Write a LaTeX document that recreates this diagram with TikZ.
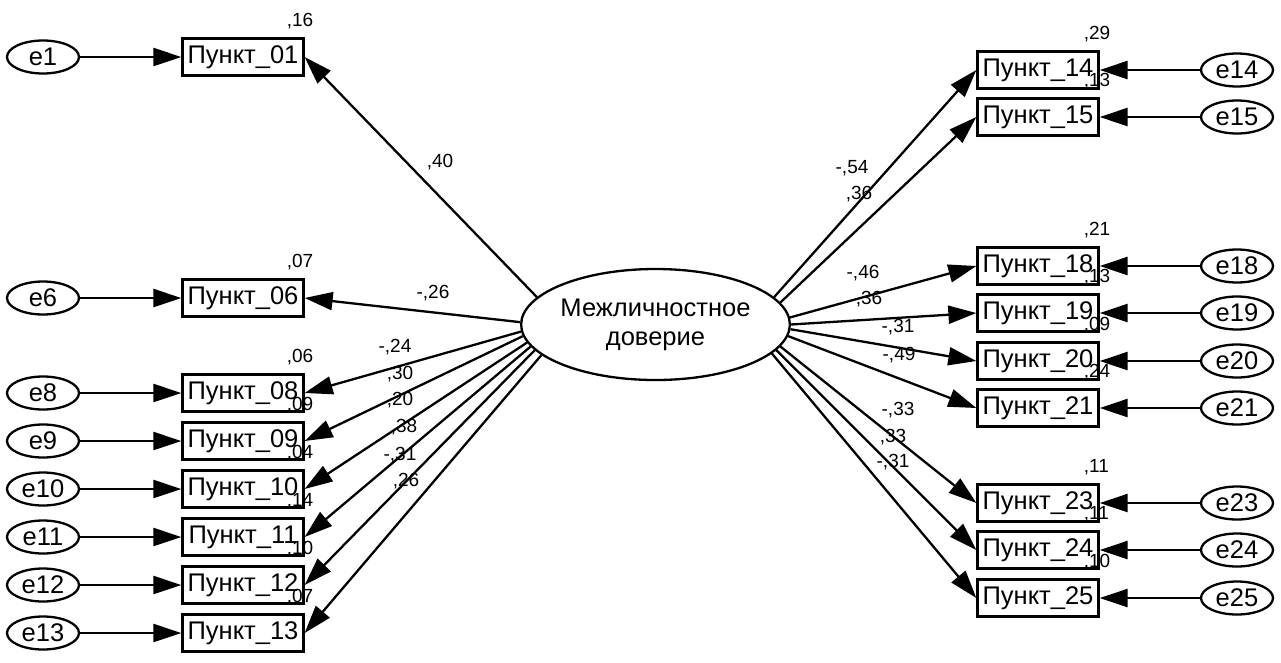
\documentclass[tikz,border=0pt]{standalone}
\usepackage{fontspec}
\setmainfont{Liberation Sans}
\usetikzlibrary{arrows.meta,shapes.geometric}
\begin{document}
\begin{tikzpicture}[x=1pt,y=-1pt,
  box/.style={draw,line width=2.3pt,minimum width=121pt,minimum height=37pt,inner sep=0pt,font=\fontsize{25.5}{28}\selectfont},
  err/.style={draw,ellipse,line width=2.3pt,minimum width=72pt,minimum height=33pt,inner sep=0pt,font=\fontsize{25.5}{28}\selectfont},
  lat/.style={draw,ellipse,line width=2.3pt,minimum width=263pt,minimum height=111pt,inner sep=0pt,align=center,font=\fontsize{25.5}{29}\selectfont},
  loadarrow/.style={line width=2.3pt,-{Triangle[length=28pt,width=18pt]}},
  rsq/.style={anchor=base west,inner sep=0pt,font=\fontsize{19}{20}\selectfont},
  coef/.style={inner sep=0pt,font=\fontsize{19}{20}\selectfont}]
\useasboundingbox (0,0) rectangle (1281,662);
\fill[white] (0,0) rectangle (1281,662);

\node[lat] (F) at (655.5,324.5) {Межличностное\\доверие};

% ---------- left side ----------
\node[box] (p01) at (243,57) {Пункт\_01};
\node[box] (p06) at (243,298) {Пункт\_06};
\node[box] (p08) at (243,393) {Пункт\_08};
\node[box] (p09) at (243,441) {Пункт\_09};
\node[box] (p10) at (243,489) {Пункт\_10};
\node[box] (p11) at (243,537) {Пункт\_11};
\node[box] (p12) at (243,585) {Пункт\_12};
\node[box] (p13) at (243,633) {Пункт\_13};

\node[err] (e1) at (43,57) {e1};
\node[err] (e6) at (43,298) {e6};
\node[err] (e8) at (43,393) {e8};
\node[err] (e9) at (43,441) {e9};
\node[err] (e10) at (43,489) {e10};
\node[err] (e11) at (43,537) {e11};
\node[err] (e12) at (43,585) {e12};
\node[err] (e13) at (43,633) {e13};

\draw[loadarrow] (e1) -- (p01);
\draw[loadarrow] (e6) -- (p06);
\draw[loadarrow] (e8) -- (p08);
\draw[loadarrow] (e9) -- (p09);
\draw[loadarrow] (e10) -- (p10);
\draw[loadarrow] (e11) -- (p11);
\draw[loadarrow] (e12) -- (p12);
\draw[loadarrow] (e13) -- (p13);

\draw[loadarrow] (F.167) -- (p01.east);
\draw[loadarrow] (F.179) -- (p06.east);
\draw[loadarrow] (F.183.6) -- (p08.east);
\draw[loadarrow] (F.185.8) -- (p09.east);
\draw[loadarrow] (F.188.2) -- (p10.east);
\draw[loadarrow] (F.190.2) -- (p11.east);
\draw[loadarrow] (F.192.6) -- (p12.east);
\draw[loadarrow] (F.195) -- (p13.east);

\node[rsq] (r01) at ([shift={(-18,-11)}]p01.north east) {,16};
\node[rsq] (r06) at ([shift={(-18,-11)}]p06.north east) {,07};
\node[rsq] (r08) at ([shift={(-18,-11)}]p08.north east) {,06};
\node[rsq] (r09) at ([shift={(-18,-11)}]p09.north east) {,09};
\node[rsq] (r10) at ([shift={(-18,-11)}]p10.north east) {,04};
\node[rsq] (r11) at ([shift={(-18,-11)}]p11.north east) {,14};
\node[rsq] (r12) at ([shift={(-18,-11)}]p12.north east) {,10};
\node[rsq] (r13) at ([shift={(-18,-11)}]p13.north east) {,07};

\node[coef] (c01) at (440,162) {,40};
\node[coef] (c06) at (433,293) {-,26};
\node[coef] (c08) at (395,347) {-,24};
\node[coef] (c09) at (400,374) {,30};
\node[coef] (c10) at (400,400) {,20};
\node[coef] (c11) at (404,427) {,38};
\node[coef] (c12) at (400,455) {-,31};
\node[coef] (c13) at (406,481) {,26};

% ---------- right side ----------
\node[box] (p14) at (1038,70) {Пункт\_14};
\node[box] (p15) at (1038,117) {Пункт\_15};
\node[box] (p18) at (1038,266) {Пункт\_18};
\node[box] (p19) at (1038,313) {Пункт\_19};
\node[box] (p20) at (1038,361) {Пункт\_20};
\node[box] (p21) at (1038,408) {Пункт\_21};
\node[box] (p23) at (1038,503) {Пункт\_23};
\node[box] (p24) at (1038,550) {Пункт\_24};
\node[box] (p25) at (1038,598) {Пункт\_25};

\node[err] (e14) at (1237,70) {e14};
\node[err] (e15) at (1237,117) {e15};
\node[err] (e18) at (1237,266) {e18};
\node[err] (e19) at (1237,313) {e19};
\node[err] (e20) at (1237,361) {e20};
\node[err] (e21) at (1237,408) {e21};
\node[err] (e23) at (1237,503) {e23};
\node[err] (e24) at (1237,550) {e24};
\node[err] (e25) at (1237,598) {e25};

\draw[loadarrow] (e14) -- (p14);
\draw[loadarrow] (e15) -- (p15);
\draw[loadarrow] (e18) -- (p18);
\draw[loadarrow] (e19) -- (p19);
\draw[loadarrow] (e20) -- (p20);
\draw[loadarrow] (e21) -- (p21);
\draw[loadarrow] (e23) -- (p23);
\draw[loadarrow] (e24) -- (p24);
\draw[loadarrow] (e25) -- (p25);

\draw[loadarrow] (F.13.2) -- (p14.west);
\draw[loadarrow] (F.10.7) -- (p15.west);
\draw[loadarrow] (F.3.7) -- (p18.west);
\draw[loadarrow] (F.0.5) -- (p19.west);
\draw[loadarrow] (F.-2.4) -- (p20.west);
\draw[loadarrow] (F.-5.1) -- (p21.west);
\draw[loadarrow] (F.-10.4) -- (p23.west);
\draw[loadarrow] (F.-12.8) -- (p24.west);
\draw[loadarrow] (F.-14.9) -- (p25.west);

\node[rsq] (r14) at ([shift={(-16,-11)}]p14.north east) {,29};
\node[rsq] (r15) at ([shift={(-16,-11)}]p15.north east) {,13};
\node[rsq] (r18) at ([shift={(-16,-11)}]p18.north east) {,21};
\node[rsq] (r19) at ([shift={(-16,-11)}]p19.north east) {,13};
\node[rsq] (r20) at ([shift={(-16,-11)}]p20.north east) {,09};
\node[rsq] (r21) at ([shift={(-16,-11)}]p21.north east) {,24};
\node[rsq] (r23) at ([shift={(-16,-11)}]p23.north east) {,11};
\node[rsq] (r24) at ([shift={(-16,-11)}]p24.north east) {,11};
\node[rsq] (r25) at ([shift={(-16,-11)}]p25.north east) {,10};

\node[coef] (c14) at (852,168) {-,54};
\node[coef] (c15) at (859,194) {,36};
\node[coef] (c18) at (863,273) {-,46};
\node[coef] (c19) at (869,299) {,36};
\node[coef] (c20) at (898,327) {-,31};
\node[coef] (c21) at (899,355) {-,49};
\node[coef] (c23) at (898,410) {-,33};
\node[coef] (c24) at (893,437) {,33};
\node[coef] (c25) at (893,462) {-,31};
\end{tikzpicture}
\end{document}
